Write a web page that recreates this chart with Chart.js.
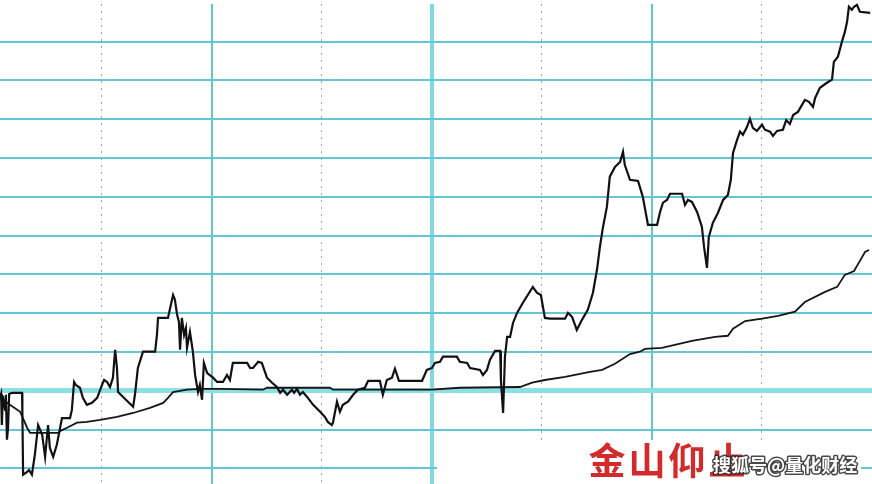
<!DOCTYPE html>
<html>
<head>
<meta charset="utf-8">
<script src="https://cdn.jsdelivr.net/npm/chart.js@4"></script>
<style>
  body { margin: 0; background: #fff; }
  canvas { display: block; }
</style>
</head>
<body>
<canvas id="myChart" width="872" height="484"></canvas>
<script>
// minutes since the open (0 = 9:30, 120 = noon, 240 = close)
const priceMin = [
  2.2, 2.5, 2.7, 3.0, 3.6, 3.8, 4.1, 4.4, 4.7, 5.5,
  8.2, 8.3, 8.5, 9.6, 10.1, 10.9, 11.7, 12.6, 13.7, 14.5,
  15.3, 15.8, 16.7, 17.7, 19.1, 21.3, 21.8, 22.4, 22.9, 24.0,
  24.8, 25.9, 27.3, 28.7, 30.0, 30.6, 31.4, 32.2, 33.0, 33.6,
  34.1, 34.4, 35.7, 37.1, 38.5, 39.0, 39.8, 41.2, 44.5, 45.0,
  45.3, 48.0, 48.8, 49.4, 49.9, 50.5, 51.0, 51.3, 51.8, 52.4,
  52.9, 53.2, 54.0, 54.8, 55.4, 56.2, 56.7, 57.3, 57.8, 58.7,
  60.3, 61.4, 63.0, 64.1, 64.9, 65.7, 69.6, 70.4, 71.2, 72.6,
  73.6, 75.0, 76.4, 77.7, 78.6, 79.4, 80.5, 81.8, 82.4, 83.2,
  84.0, 84.8, 85.9, 87.6, 89.5, 90.8, 91.6, 92.7, 93.0, 94.1,
  94.9, 95.7, 97.1, 98.5, 99.8, 101.7, 102.6, 105.8, 106.6, 107.7,
  109.1, 109.9, 111.0, 117.3, 118.6, 120.0, 120.8, 122.2, 123.0, 126.8,
  127.6, 129.6, 130.4, 133.1, 133.9, 135.0, 135.8, 137.2, 138.6, 138.8,
  139.4, 139.9, 140.5, 141.3, 142.1, 143.2, 144.8, 147.5, 148.6, 149.7,
  150.8, 152.2, 156.3, 157.1, 158.2, 159.5, 160.9, 162.5, 163.9, 165.0,
  165.8, 166.6, 167.7, 168.5, 169.9, 171.3, 172.1, 172.6, 174.0, 176.2,
  177.5, 178.9, 181.4, 182.2, 183.0, 184.1, 184.9, 188.2, 189.0, 189.8,
  190.9, 192.3, 193.6, 194.2, 195.0, 195.5, 196.6, 198.0, 199.4, 200.7,
  201.5, 202.1, 203.2, 204.0, 204.8, 205.9, 206.7, 207.5, 208.6, 210.0,
  210.8, 212.2, 213.0, 214.1, 215.7, 216.6, 217.6, 218.5, 219.8, 221.7,
  222.8, 223.9, 224.5, 225.8, 227.7, 229.1, 229.6, 230.7, 231.8, 232.6,
  233.2, 233.7, 234.5, 235.1, 235.9, 236.7, 239.5
];
// % change vs previous close
const pricePct = [
  -0.18, -0.08, -0.88, -0.13, -0.49, -0.10, -1.26, -0.95, -0.08, -0.05,
  -0.05, -0.54, -2.16, -2.09, -2.04, -2.16, -1.65, -0.88, -1.13, -1.70,
  -0.88, -1.47, -1.70, -1.39, -0.70, -0.70, -0.49, 0.23, 0.15, 0.08,
  -0.18, -0.36, -0.31, -0.18, 0.15, 0.28, 0.23, 0.10, 0.34, 1.06,
  0.59, -0.03, -0.15, -0.28, -0.41, -0.10, 0.59, 1.01, 1.01, 1.44,
  1.88, 1.88, 2.22, 2.47, 2.35, 1.96, 1.78, 1.06, 1.88, 1.44,
  1.62, 1.11, 1.52, 1.01, 0.41, -0.03, 0.15, -0.23, 0.72, 0.46,
  0.34, 0.23, 0.23, 0.41, 0.28, 0.72, 0.72, 0.59, 0.59, 0.75,
  0.72, 0.34, 0.21, 0.10, -0.05, 0.03, -0.10, 0.03, -0.05, 0.05,
  -0.10, -0.03, -0.15, -0.36, -0.54, -0.67, -0.80, -0.88, -0.82, -0.28,
  -0.54, -0.36, -0.28, -0.10, 0.03, 0.08, 0.26, 0.26, -0.10, 0.28,
  0.34, 0.57, 0.26, 0.26, 0.54, 0.59, 0.72, 0.75, 0.88, 0.88,
  0.75, 0.72, 0.59, 0.54, 0.41, 0.54, 0.80, 1.03, 1.03, 0.28,
  -0.57, 0.88, 1.39, 1.39, 1.75, 2.01, 2.27, 2.68, 2.53, 2.47,
  1.88, 1.86, 1.86, 2.01, 1.91, 1.57, 1.83, 2.09, 2.53, 3.12,
  3.71, 4.20, 4.74, 5.52, 5.77, 5.90, 6.16, 5.82, 5.44, 5.41,
  5.00, 4.28, 4.28, 4.61, 4.85, 4.92, 5.08, 5.08, 4.79, 4.92,
  4.87, 4.61, 4.23, 3.71, 3.17, 3.97, 4.33, 4.59, 4.92, 5.05,
  5.44, 6.13, 6.47, 6.68, 6.60, 6.80, 7.01, 6.78, 6.70, 6.86,
  6.73, 6.68, 6.57, 6.70, 6.73, 6.98, 6.88, 7.11, 7.19, 7.50,
  7.45, 7.32, 7.55, 7.81, 7.94, 8.02, 8.48, 8.61, 9.00, 9.25,
  9.51, 9.90, 9.82, 9.90, 9.95, 9.77, 9.74
];

// average price line
const avgMin = [
  2.2, 4.9, 7.7, 9.6, 10.4, 18.0, 19.1, 20.5, 23.2, 25.9,
  29.5, 34.1, 38.5, 43.1, 46.7, 48.0, 49.4, 53.2, 56.7, 62.2,
  73.9, 75.0, 92.2, 93.0, 120.0, 127.6, 144.0, 147.3, 150.8, 156.3,
  159.0, 163.1, 166.4, 169.9, 174.0, 176.7, 178.1, 182.7, 190.9, 197.2,
  200.7, 202.1, 205.4, 210.0, 214.4, 219.0, 221.7, 227.2, 230.5, 232.6,
  235.1, 236.7, 238.1, 239.2
];
const avgPct = [
  -0.18, -0.36, -0.54, -0.95, -1.08, -1.08, -1.01, -0.95, -0.82, -0.80,
  -0.75, -0.67, -0.57, -0.44, -0.31, -0.18, -0.03, 0.03, 0.05, 0.05,
  0.03, 0.08, 0.08, 0.03, 0.03, 0.08, 0.10, 0.21, 0.28, 0.36,
  0.41, 0.49, 0.54, 0.70, 0.95, 1.01, 1.08, 1.11, 1.29, 1.39,
  1.42, 1.60, 1.80, 1.86, 1.93, 2.04, 2.29, 2.55, 2.68, 2.99,
  3.09, 3.35, 3.58, 3.63
];

// grid ticks
const solidTicks = [60, 120, 180];
const dotTicks = [30, 90, 150, 210];
const pctTicks = [-2, -1, 0, 1, 2, 3, 4, 5, 6, 7, 8, 9];

const caption = '金山仰止';
const watermark = '搜狐号@量化财经';

function toPoints(xs, ys) {
    let n = Math.min(xs.length, ys.length);
    let out = [];
    for (let i = 0; i < n; i++) out.push({x: xs[i], y: ys[i]});
    return out;
}

function setTicks(list) {
    return function (scale) {
        scale.ticks = list.map(v => ({value: v}));
    };
}

// white label box + texts at the bottom
const labelPlugin = {
    id: 'labels',
    beforeDatasetsDraw(chart) {
        const c = chart.ctx;
        c.save();
        c.fillStyle = '#ffffff';
        c.fillRect(437, 440, 424, 44);
        c.restore();
    },
    afterDraw(chart) {
        const c = chart.ctx;
        c.save();
        c.font = 'bold 37px "Noto Sans CJK SC"';
        c.fillStyle = '#d32a2c';
        c.textBaseline = 'alphabetic';
        c.textAlign = 'center';
        for (let i = 0; i < caption.length; i++) {
            c.fillText(caption[i], 607 + i * 40, 475);
        }
        c.font = 'bold 18px "Noto Sans CJK SC"';
        c.textAlign = 'left';
        c.lineJoin = 'round';
        c.lineWidth = 3;
        c.strokeStyle = 'rgba(40,40,40,0.85)';
        c.strokeText(watermark, 713, 472);
        c.fillStyle = '#ffffff';
        c.fillText(watermark, 713, 472);
        c.restore();
    }
};

const ctx = document.getElementById('myChart').getContext('2d');
const myChart = new Chart(ctx, {
    type: 'line',
    data: {
        datasets: [{
            data: toPoints(priceMin, pricePct),
            borderColor: '#111111',
            borderWidth: 2.2,
            pointRadius: 0,
            tension: 0,
            clip: false
        }, {
            data: toPoints(avgMin, avgPct),
            borderColor: '#151515',
            borderWidth: 1.8,
            pointRadius: 0,
            tension: 0,
            clip: false
        }]
    },
    options: {
        responsive: false,
        animation: false,
        events: [],
        layout: { padding: { top: 4, left: 0, right: 0, bottom: 0 } },
        plugins: {
            legend: { display: false },
            tooltip: { enabled: false }
        },
        scales: {
            x: {
                type: 'linear',
                min: 2.2,
                max: 240,
                afterBuildTicks: setTicks(solidTicks),
                ticks: { display: false },
                border: { display: false },
                grid: {
                    drawTicks: false,
                    color: ctx => ctx.tick && ctx.tick.value === 120 ? '#7fd9e3' : '#5fc6d4',
                    lineWidth: ctx => ctx.tick && ctx.tick.value === 120 ? 4 : 2
                }
            },
            x2: {
                type: 'linear',
                position: 'bottom',
                min: 2.2,
                max: 240,
                afterBuildTicks: setTicks(dotTicks),
                ticks: { display: false },
                border: { display: false, dash: [2, 5] },
                grid: {
                    drawTicks: false,
                    color: '#93aab2',
                    lineWidth: 1
                }
            },
            y: {
                type: 'linear',
                min: -2.4,
                max: 9.97,
                afterBuildTicks: setTicks(pctTicks),
                ticks: { display: false },
                border: { display: false },
                grid: {
                    drawTicks: false,
                    color: ctx => ctx.tick && ctx.tick.value === 0 ? '#8ddfe6' : '#62c7d5',
                    lineWidth: ctx => ctx.tick && ctx.tick.value === 0 ? 5 : 2
                }
            }
        }
    },
    plugins: [labelPlugin]
});
</script>
</body>
</html>
